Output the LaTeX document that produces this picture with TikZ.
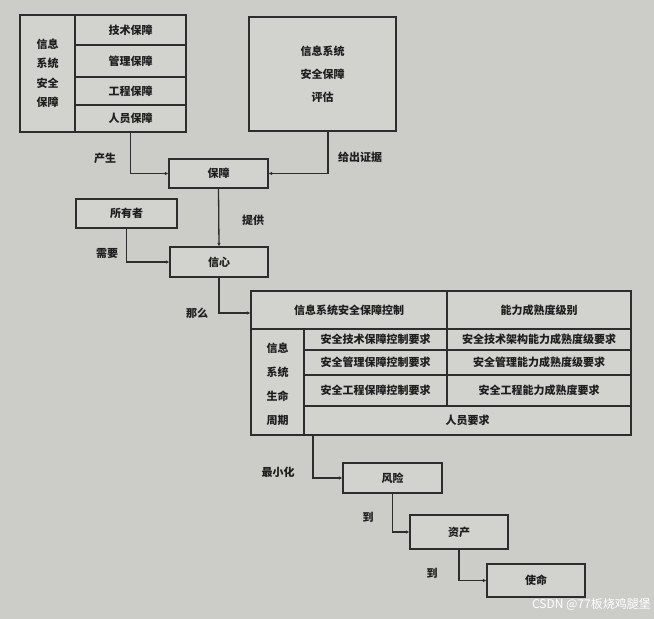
\documentclass[tikz,border=0pt]{standalone}
\usepackage{fontspec}
\setmainfont{Noto Sans CJK SC}
\usetikzlibrary{arrows.meta}
\definecolor{bg}{RGB}{204,204,201}
\definecolor{boxfill}{RGB}{210,210,207}
\definecolor{ink}{RGB}{45,45,45}
\definecolor{txt}{RGB}{30,30,30}
\tikzset{
  cell/.style={draw=ink, line width=1.3pt, fill=boxfill, inner sep=0pt, text=txt,
    font=\fontsize{11}{13}\selectfont\bfseries, align=center},
  lbl/.style={text=txt, inner sep=0pt, font=\fontsize{11}{13}\selectfont\bfseries},
  conn/.style={draw=ink, line width=1.3pt, -{Latex[length=3.5pt,width=3.5pt]}}
}
\begin{document}
\begin{tikzpicture}[x=1pt,y=-1pt]
\fill[bg] (0,0) rectangle (654,619);
\useasboundingbox (0,0) rectangle (654,619);

% top-left box
\node[cell, minimum width=55, minimum height=117, font=\fontsize{11}{19.5}\selectfont\bfseries] (lb) at (47.5,73.5) {信息\\系统\\安全\\保障};
\node[cell, minimum width=111, minimum height=30] (r1) at (130.5,30) {技术保障};
\node[cell, minimum width=111, minimum height=32] (r2) at (130.5,61) {管理保障};
\node[cell, minimum width=111, minimum height=28] (r3) at (130.5,91) {工程保障};
\node[cell, minimum width=111, minimum height=27] (r4) at (130.5,118.5) {人员保障};

% top-right box
\node[cell, minimum width=147, minimum height=114, font=\fontsize{11}{23}\selectfont\bfseries] (ev) at (322.5,74) {信息系统\\安全保障\\评估};

% middle boxes
\node[cell, minimum width=99, minimum height=29] (bz) at (218.5,173.5) {保障};
\node[cell, minimum width=101, minimum height=29] (ow) at (126.5,213.5) {所有者};
\node[cell, minimum width=98, minimum height=30] (xx) at (219,262) {信心};

% table
\node[cell, minimum width=196, minimum height=38] (th1) at (349,310) {信息系统安全保障控制};
\node[cell, minimum width=184, minimum height=38] (th2) at (539,310) {能力成熟度级别};
\node[cell, minimum width=53, minimum height=106, font=\fontsize{11}{24}\selectfont\bfseries] (lc) at (277.5,382) {\\[-10pt]信息\\系统\\生命\\周期};
\node[cell, minimum width=143, minimum height=21] (c1) at (375.5,339.5) {安全技术保障控制要求};
\node[cell, minimum width=143, minimum height=25] (c2) at (375.5,362.5) {安全管理保障控制要求};
\node[cell, minimum width=143, minimum height=31] (c3) at (375.5,390.5) {安全工程保障控制要求};
\node[cell, minimum width=184, minimum height=21] (d1) at (539,339.5) {安全技术架构能力成熟度级要求};
\node[cell, minimum width=184, minimum height=25] (d2) at (539,362.5) {安全管理能力成熟度级要求};
\node[cell, minimum width=184, minimum height=31] (d3) at (539,390.5) {安全工程能力成熟度要求};
\node[cell, minimum width=327, minimum height=29] (ry) at (467.5,420.5) {人员要求};
\coordinate (tb) at (313,435);

% bottom chain
\node[cell, minimum width=99, minimum height=30] (fx) at (392.5,478) {风险};
\node[cell, minimum width=98, minimum height=34] (zc) at (459,532) {资产};
\node[cell, minimum width=98, minimum height=33] (sm) at (536,580.5) {使命};

% connectors
\draw[conn] (r4.south) |- (bz.west);
\draw[conn] ([xshift=5.5pt]ev.south) |- (bz.east);
\draw[conn] (bz.south) -- (xx.north);
\draw[conn] (ow.south) |- (xx.west);
\draw[conn] (xx.south) |- ([yshift=-3pt]th1.west);
\draw[conn] (tb) |- (fx.west);
\draw[conn] (fx.south) |- (zc.west);
\draw[conn] (zc.south) |- (sm.west);

% labels
\node[lbl] (l1) at (105,158) {产生};
\node[lbl] (l2) at (360,157) {给出证据};
\node[lbl] (l3) at (253,220) {提供};
\node[lbl] (l4) at (107,253) {需要};
\node[lbl] (l5) at (197,313) {那么};
\node[lbl] (l6) at (278,472) {最小化};
\node[lbl] (l7) at (368,517) {到};
\node[lbl] (l8) at (432,573) {到};

% watermark
\node[inner sep=0pt, text=white, font=\fontsize{12}{14}\selectfont, anchor=east] (wm) at (651,604) {CSDN @77板烧鸡腿堡};
\end{tikzpicture}
\end{document}
